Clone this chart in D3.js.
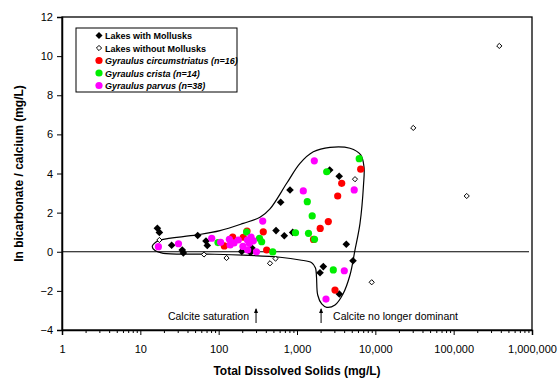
<!DOCTYPE html>
<html>
<head>
<meta charset="utf-8">
<script src="https://cdn.jsdelivr.net/npm/d3@7"></script>
<style>
    body { margin: 0; background: #fff; }
    text { font-family: "Liberation Sans", Arial, sans-serif; }
</style>
</head>
<body>
<div id="chart"></div>
<script>
// data: [TDS mg/L, ln HCO3/Ca]
var withMollusks = [
    [16.5, 1.2], [17.5, 0.99], [25.1, 0.33], [34.3, 0.09], [35.4, -0.06],
    [54, 0.83], [68.9, 0.55], [71.6, 0.32], [197, 0.01], [266, 0.19],
    [255, -0.04], [540, 1.08], [688, 0.82], [881, 0.99], [619, 2.53],
    [814, 3.16], [2615, 4.18], [3456, 3.86], [4259, 0.38], [5187, -0.46],
    [2167, -0.76], [1966, -1.07], [3467, -2.16]
];
var withoutMollusks = [
    [17.5, 0.6], [65, -0.14], [126, -0.32], [452, -0.59], [532, -0.35],
    [5500, 3.71], [8990, -1.56], [30500, 6.33], [146700, 2.85], [382400, 10.52]
];
var circumstriatus = [
    [118, 0.3], [151, 0.75], [206, 0.74], [230, 1.06], [371, 1.02],
    [410, 0.09], [1624, 0.63], [1978, 1.19], [2510, 1.54], [3308, 2.85],
    [3721, 3.5], [6506, 4.22], [3056, -1.96]
];
var crista = [
    [98, 0.47], [227, 1.01], [332, 0.69], [354, 0.51], [490, -0.01],
    [957, 0.97], [1402, 0.94], [1673, 0.64], [1563, 1.83], [1353, 2.56],
    [2394, 4.09], [6224, 4.76], [2906, -0.93]
];
var parvus = [
    [17, 0.26], [30.7, 0.41], [81.5, 0.69], [106, 0.48], [137, 0.64],
    [140, 0.35], [178, 0.6], [233, 0.6], [246, 0.43], [277, 0.56],
    [304, 0], [235, 0.09], [365, 1.57], [1663, 4.65], [1203, 3.11],
    [5373, 3.16], [4015, -0.97], [2345, -2.42], [204, 0.27], [259, 0.75],
    [157, 0.45]
];
// hand drawn envelope round the mollusk lakes
var envelope = [
    [14.2, 0.26], [15.85, 0.5], [18.9, 0.62], [52.4, 0.86], [104, 1.08],
    [206, 1.45], [337, 1.76], [452, 2.19], [739, 3.5], [1092, 4.52],
    [1615, 5.11], [2638, 5.34], [4748, 5.29], [6506, 4.95], [7168, 4.33],
    [7063, 3.41], [6373, 1.45], [5501, 0.09], [4748, -1.19], [3867, -2.16],
    [3056, -2.72], [2394, -2.84], [2067, -2.67], [1838, -2.21], [1774, -1.29],
    [1722, -0.83], [1540, -0.56], [1092, -0.42], [607, -0.28], [206, -0.17],
    [70.4, -0.12], [19.6, -0.08], [15.4, 0.06]
];
var yTicks = [-4, -2, 0, 2, 4, 6, 8, 10, 12];
var xTicks = [1, 10, 100, 1000, 10000, 100000, 1000000];
var annotations = [
    { x: 300, label: "Calcite saturation", side: "left" },
    { x: 2030, label: "Calcite no longer dominant", side: "right" }
];

var W = 560, H = 378;
var margin = { top: 17, right: 28, bottom: 48, left: 62 };

var svg = d3.select("#chart").append("svg")
    .attr("width", W)
    .attr("height", H);

var x = d3.scaleLog().domain([1, 1000000]).range([margin.left, W - margin.right]);
var y = d3.scaleLinear().domain([-4, 12]).range([H - margin.bottom, margin.top]);

// frame
svg.append("rect")
    .attr("x", x(1)).attr("y", y(12))
    .attr("width", x(1000000) - x(1))
    .attr("height", y(-4) - y(12))
    .attr("fill", "none")
    .attr("stroke", "#000")
    .attr("stroke-width", 1.3);

// zero line
svg.append("line")
    .attr("x1", x(1)).attr("x2", x(1000000) - 3)
    .attr("y1", y(0)).attr("y2", y(0))
    .attr("stroke", "#000")
    .attr("stroke-width", 1);

// axes
var fmt = d3.format(",");
var xAxis = svg.append("g")
    .attr("transform", "translate(0," + y(-4) + ")")
    .call(d3.axisBottom(x).tickValues(xTicks).tickFormat(fmt).tickSize(5).tickPadding(10));
var minor = [];
xTicks.slice(0, -1).forEach(function(t) {
    for (var k = 2; k < 10; k++) minor.push(t * k);
});
svg.append("g")
    .attr("transform", "translate(0," + y(-4) + ")")
    .call(d3.axisBottom(x).tickValues(minor).tickFormat("").tickSize(3))
    .select(".domain").remove();
var yAxis = svg.append("g")
    .attr("transform", "translate(" + x(1) + ",0)")
    .call(d3.axisLeft(y).tickValues(yTicks).tickSize(5).tickPadding(4));

svg.selectAll(".domain").attr("stroke-width", 1.5);
svg.selectAll(".tick line").attr("stroke", "#000");
svg.selectAll(".tick text")
    .attr("font-size", 11)
    .attr("font-family", "Liberation Sans, Arial, sans-serif")
    .attr("fill", "#000");

// axis titles
svg.append("text")
    .attr("x", (x(1) + x(1000000)) / 2)
    .attr("y", 375)
    .attr("text-anchor", "middle")
    .attr("font-size", 12)
    .attr("font-weight", "bold")
    .text("Total Dissolved Solids (mg/L)");
svg.append("text")
    .attr("transform", "translate(23," + ((y(12) + y(-4)) / 2) + ") rotate(-90)")
    .attr("text-anchor", "middle")
    .attr("font-size", 12)
    .attr("font-weight", "bold")
    .text("ln bicarbonate / calcium (mg/L)");

// envelope
var line = d3.line()
    .x(function(d) { return x(d[0]); })
    .y(function(d) { return y(d[1]); })
    .curve(d3.curveCatmullRomClosed.alpha(0.5));
svg.append("path")
    .datum(envelope)
    .attr("d", line)
    .attr("fill", "none")
    .attr("stroke", "#000")
    .attr("stroke-width", 1.2);

// markers
function diamond(r) {
    return "M0," + (-r) + "L" + r + ",0L0," + r + "L" + (-r) + ",0Z";
}
svg.append("g").selectAll("path")
    .data(withMollusks).join("path")
    .attr("transform", function(d) { return "translate(" + x(d[0]) + "," + y(d[1]) + ")"; })
    .attr("d", diamond(3.8))
    .attr("fill", "#000");
svg.append("g").selectAll("path")
    .data(withoutMollusks).join("path")
    .attr("transform", function(d) { return "translate(" + x(d[0]) + "," + y(d[1]) + ")"; })
    .attr("d", diamond(2.6))
    .attr("fill", "#fff")
    .attr("stroke", "#000")
    .attr("stroke-width", 1);

var circleSeries = [
    { data: circumstriatus, color: "#ff0000" },
    { data: crista, color: "#00ee00" },
    { data: parvus, color: "#ff00ff" }
];
circleSeries.forEach(function(s) {
    svg.append("g").selectAll("circle")
        .data(s.data).join("circle")
        .attr("cx", function(d) { return x(d[0]); })
        .attr("cy", function(d) { return y(d[1]); })
        .attr("r", 3.6)
        .attr("fill", s.color);
});

// annotations with arrows
annotations.forEach(function(a) {
    var ax = x(a.x);
    svg.append("line")
        .attr("x1", ax).attr("x2", ax)
        .attr("y1", 323).attr("y2", 309)
        .attr("stroke", "#000").attr("stroke-width", 1);
    svg.append("path")
        .attr("d", "M" + (ax - 2) + ",313L" + ax + ",308L" + (ax + 2) + ",313Z")
        .attr("fill", "#000");
    svg.append("text")
        .attr("x", a.side === "left" ? ax - 7 : ax + 12)
        .attr("y", 320)
        .attr("text-anchor", a.side === "left" ? "end" : "start")
        .attr("font-size", 10.5)
        .text(a.label);
});

// legend
var legendItems = [
    { label: "Lakes with Mollusks", type: "filled", italic: false },
    { label: "Lakes without Mollusks", type: "open", italic: false },
    { label: "Gyraulus circumstriatus (n=16)", type: "#ff0000", italic: true },
    { label: "Gyraulus crista (n=14)", type: "#00ee00", italic: true },
    { label: "Gyraulus parvus (n=38)", type: "#ff00ff", italic: true }
];
var legend = svg.append("g").attr("transform", "translate(76,28)");
legend.append("rect")
    .attr("width", 161).attr("height", 64)
    .attr("fill", "#fff")
    .attr("stroke", "#000")
    .attr("stroke-width", 1);
legendItems.forEach(function(it, i) {
    var g = legend.append("g").attr("transform", "translate(23," + (7.5 + i * 12.5) + ")");
    if (it.type === "filled") {
        g.append("path").attr("d", diamond(3.5)).attr("fill", "#000");
    } else if (it.type === "open") {
        g.append("path").attr("d", diamond(2.6)).attr("fill", "#fff").attr("stroke", "#000");
    } else {
        g.append("circle").attr("r", 3.6).attr("fill", it.type);
    }
    g.append("text")
        .attr("x", 6).attr("y", 3.5)
        .attr("font-size", 9)
        .attr("font-weight", "bold")
        .attr("font-style", it.italic ? "italic" : "normal")
        .text(it.label);
});
</script>
</body>
</html>
